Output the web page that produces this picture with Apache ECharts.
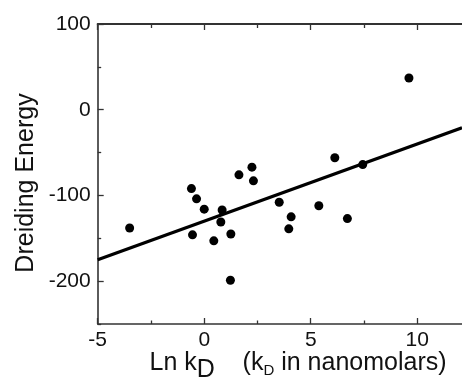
<!DOCTYPE html>
<html><head><meta charset="utf-8">
<script src="https://cdn.jsdelivr.net/npm/echarts@6/dist/echarts.min.js"></script>
<style>html,body{margin:0;padding:0;background:#fff}#c{width:462px;height:385px}</style>
</head><body><div id="c"></div>
<script>
// Scatter data: Ln kD vs Dreiding Energy
var lnKd = [-3.5, -0.6, -0.36, 0.0, 0.84, 0.78, -0.55, 0.45, 1.25, 1.23, 1.63, 2.24, 2.31, 6.13, 7.44, 3.52, 5.38, 4.08, 3.97, 6.72, 9.61];
var energy = [-138, -92, -104, -116, -117, -131, -146, -153, -145, -199, -76, -67, -83, -56, -64, -108, -112, -125, -139, -127, 37];
// Regression line endpoints
var fitX = [-5, 12.1];
var fitY = [-175, -21];
// Axis ticks
var xMajor = [-5, 0, 5, 10];
var xMinor = [-2.5, 2.5, 7.5];
var yMajor = [-200, -100, 0, 100];
var yMinor = [-250, -150, -50, 50];

var FONT = 'Liberation Sans, Arial, sans-serif';
var AX = '#333';
var TXT = '#111';
var chart = echarts.init(document.getElementById('c'));
function xAx(grid, pos, vals, len, labels, line, w) {
  return {type:'value', gridIndex:grid, position:pos, min:-5, max:12.1,
    axisLine:{show:line, onZero:false, lineStyle:{color:AX, width:w||1.6}},
    axisTick:{show:true, inside:true, length:len, customValues:vals, lineStyle:{color:AX, width:1.3}},
    axisLabel:{show:labels, customValues:vals, fontFamily:FONT, fontSize:21, color:TXT, margin:6},
    splitLine:{show:false}};
}
function yAx(grid, pos, vals, len, labels, line) {
  return {type:'value', gridIndex:grid, position:pos, min:-250, max:100,
    axisLine:{show:line, onZero:false, lineStyle:{color:AX, width:1.6}},
    axisTick:{show:true, inside:true, length:len, customValues:vals, lineStyle:{color:AX, width:1.3}},
    axisLabel:{show:labels, customValues:vals, fontFamily:FONT, fontSize:21, color:TXT, margin:7},
    splitLine:{show:false}};
}
var pts = lnKd.map(function(x,i){return [x, energy[i]];});
var fit = fitX.map(function(x,i){return [x, fitY[i]];});
var g = {left:97.7, right:0, top:24, bottom:61};
chart.setOption({
  animation:false,
  backgroundColor:'#fff',
  grid:[g, Object.assign({}, g)],
  xAxis:[xAx(0,'bottom', xMajor, 6, true, true), xAx(0,'top', xMajor, 6, false, true, 2),
         xAx(1,'bottom', xMinor, 3.5, false, false), xAx(1,'top', xMinor, 4, false, false)],
  yAxis:[yAx(0,'left', yMajor, 6, true, true), yAx(1,'left', yMinor, 3.5, false, false)],
  series:[
    {type:'line', data:fit, xAxisIndex:0, yAxisIndex:0, showSymbol:false, symbol:'none',
     lineStyle:{color:'#000', width:3.2}},
    {type:'scatter', data:pts, xAxisIndex:0, yAxisIndex:0, symbol:'circle', symbolSize:9,
     itemStyle:{color:'#000', opacity:1}}
  ],
  graphic:[
    {type:'text', x:26, y:183, rotation:Math.PI/2,
     style:{text:'Dreiding Energy', fontFamily:FONT, fontSize:25, fill:TXT, align:'center', verticalAlign:'middle'}},
    {type:'text', x:298, y:351,
     style:{text:'{a|Ln k}{b|D}{a|    (k}{c|D}{a| in nanomolars)}', align:'center', verticalAlign:'top',
       rich:{
         a:{fontFamily:FONT, fontSize:25, fill:TXT, verticalAlign:'top', lineHeight:27},
         b:{fontFamily:FONT, fontSize:25, fill:TXT, verticalAlign:'top', lineHeight:27, padding:[7,0,0,0]},
         c:{fontFamily:FONT, fontSize:15, fill:TXT, verticalAlign:'top', lineHeight:27, padding:[12,0,0,0]}
       }}}
  ]
});
</script></body></html>
